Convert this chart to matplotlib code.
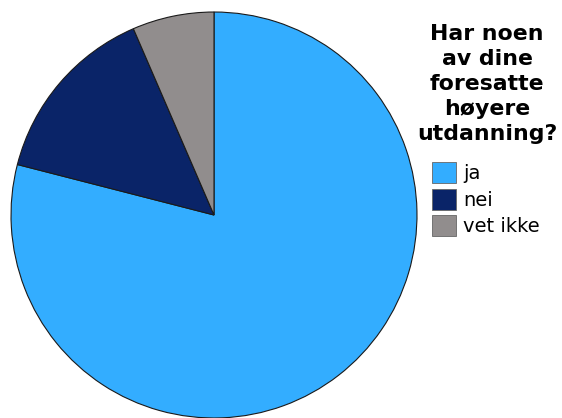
import matplotlib
matplotlib.use('Agg')
import matplotlib.pyplot as plt
from matplotlib.patches import Patch

# answers and shares (percent)
labels = ['ja', 'nei', 'vet ikke']
shares = [79.0, 14.5, 6.5]
colors = ['#33adff', '#0a2468', '#918d8d']
title = 'Har noen\nav dine\nforesatte\nhøyere\nutdanning?'

W, H = 562, 418
fig = plt.figure(figsize=(W / 100, H / 100), dpi=100, facecolor='white')

# pie box: centre ~(214, 215) px, radius ~204 px
cx, cy, r = 214, 215, 204
ax = fig.add_axes([(cx - r) / W, (H - cy - r) / H, 2 * r / W, 2 * r / H])
ax.pie(shares, colors=colors, startangle=90, counterclock=False, radius=1,
       wedgeprops=dict(edgecolor='#1a1a1a', linewidth=0.8))
ax.set_xlim(-1.005, 1.005)
ax.set_ylim(-1.005, 1.005)
ax.set_axis_off()

fig.text(487 / W, 1 - 24 / H, title, ha='center', va='top', linespacing=1.32,
         fontsize=15.8, fontweight='bold', family='DejaVu Sans')

handles = [Patch(facecolor=c, edgecolor='#666666', linewidth=0.6) for c in colors]
fig.legend(handles, labels, loc='upper left', bbox_to_anchor=(428 / W, 1 - 158 / H),
           frameon=False, handlelength=1.25, handleheight=1.3,
           handletextpad=0.35, labelspacing=0.28, borderaxespad=0, borderpad=0.2,
           prop=dict(family='DejaVu Sans', size=14))

fig.savefig('out.png', dpi=100, facecolor='white')
